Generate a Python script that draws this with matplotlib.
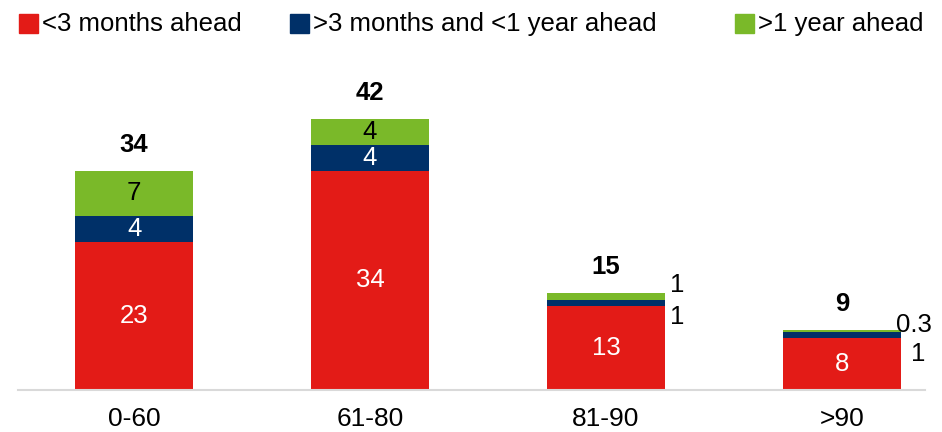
import numpy as np
import matplotlib.pyplot as plt
from matplotlib.patches import Rectangle

plt.rcParams['font.family'] = ['Liberation Sans', 'DejaVu Sans']

# data
categories = ['0-60', '61-80', '81-90', '>90']
short_term = [23, 34, 13, 8]
mid_term = [4, 4, 1, 1]
long_term = [7, 4, 1, 0.3]
totals = ['34', '42', '15', '9']
series_names = ['<3 months ahead', '>3 months and <1 year ahead', '>1 year ahead']

red = '#E31B17'
navy = '#003068'
green = '#7AB929'

fig = plt.figure(figsize=(9.42, 4.32), dpi=100)
ax = fig.add_axes([18/942, 42/432, 907/942, 330/432])

x = np.arange(len(categories))
w = 0.5
b1 = np.array(short_term)
b2 = b1 + np.array(mid_term)
ax.bar(x, short_term, w, color=red, linewidth=0)
ax.bar(x, mid_term, w, bottom=b1, color=navy, linewidth=0)
ax.bar(x, long_term, w, bottom=b2, color=green, linewidth=0)

ax.set_xlim(-0.492, 3.352)
ax.set_ylim(0, 51.2)

# segment labels
fs = 18.5
for i in range(len(categories)):
    ax.text(x[i], short_term[i] / 2, str(short_term[i]), color='white',
            ha='center', va='center', fontsize=fs)
    if i < 2:
        ax.text(x[i], b1[i] + mid_term[i] / 2, str(mid_term[i]), color='white',
                ha='center', va='center', fontsize=fs)
        ax.text(x[i], b2[i] + long_term[i] / 2, str(long_term[i]), color='black',
                ha='center', va='center', fontsize=fs)
    else:
        # small segments labelled beside the bar
        dy_g = 12 if i == 2 else 6
        dy_b = -14 if i == 2 else -19
        dx_g = 5 if i == 2 else -5
        dx_b = 5 if i == 2 else 10
        ax.annotate(str(long_term[i]), (x[i] + w / 2, b2[i] + long_term[i] / 2),
                    xytext=(dx_g * 0.72, dy_g * 0.72), textcoords='offset points',
                    ha='left', va='center', fontsize=fs)
        ax.annotate(str(mid_term[i]), (x[i] + w / 2, b1[i] + mid_term[i] / 2),
                    xytext=(dx_b * 0.72, dy_b * 0.72), textcoords='offset points',
                    ha='left', va='center', fontsize=fs)
    top = b2[i] + long_term[i]
    ax.annotate(totals[i], (x[i], top), xytext=(0, 26 * 0.72), textcoords='offset points',
                ha='center', va='center', fontsize=fs, fontweight='bold')

ax.set_xticks(x)
ax.set_xticklabels(categories, fontsize=19)
ax.tick_params(axis='x', length=0, pad=12)
ax.set_yticks([])
for s in ['top', 'right', 'left']:
    ax.spines[s].set_visible(False)
ax.spines['bottom'].set_color('#d9d9d9')
ax.spines['bottom'].set_linewidth(1.5)

# legend drawn by hand
leg_x = [19, 290, 735]
for lx, name, c in zip(leg_x, series_names, [red, navy, green]):
    fig.patches.append(Rectangle((lx / 942, 1 - 33 / 432), 19 / 942, 19 / 432,
                                 transform=fig.transFigure, color=c))
    fig.text((lx + 23) / 942, 1 - 24 / 432, name, fontsize=fs, va='center', ha='left')

fig.savefig('out.png', dpi=100)
